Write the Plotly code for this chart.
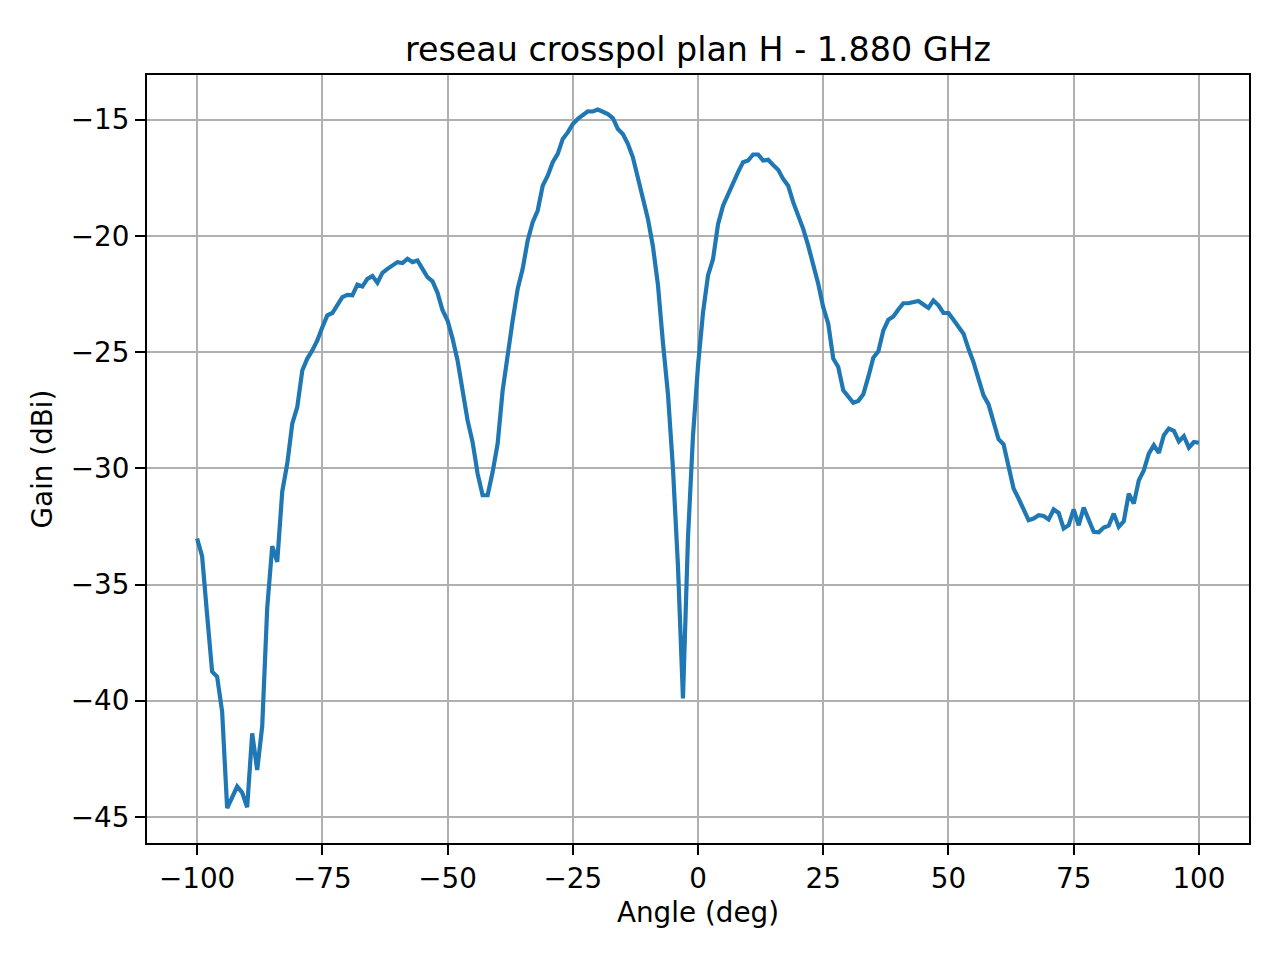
import plotly.graph_objects as go

# measurement: angle (deg) and gain (dBi), 1 deg step
angle = list(range(-100, 101))
gain = [
    -33.02, -33.78, -36.30, -38.75, -38.97, -40.47, -44.62, -44.15, -43.69, -43.95,   # -100..-91
    -44.58, -41.40, -42.98, -41.10, -36.00, -33.35, -34.02, -31.00, -29.80, -28.08,   # -90..-81
    -27.36, -25.79, -25.28, -24.93, -24.50, -23.93, -23.42, -23.32, -23.00, -22.64,   # -80..-71
    -22.54, -22.56, -22.10, -22.18, -21.85, -21.73, -22.02, -21.59, -21.42, -21.27,   # -70..-61
    -21.13, -21.17, -20.99, -21.13, -21.06, -21.42, -21.78, -21.96, -22.45, -23.20,   # -60..-51
    -23.64, -24.42, -25.36, -26.65, -27.94, -28.87, -30.23, -31.16, -31.16, -30.16,   # -50..-41
    -28.94, -26.65, -25.07, -23.64, -22.28, -21.42, -20.20, -19.41, -18.91, -17.84,   # -40..-31
    -17.41, -16.83, -16.47, -15.83, -15.55, -15.19, -14.97, -14.79, -14.64, -14.65,   # -30..-21
    -14.57, -14.66, -14.76, -14.93, -15.40, -15.62, -16.04, -16.62, -17.55, -18.34,   # -20..-11
    -19.27, -20.45, -22.10, -24.60, -26.80, -30.00, -34.20, -39.90, -33.00, -28.60,   # -10..-1
    -25.60, -23.30, -21.70, -21.00, -19.50, -18.70, -18.20, -17.70, -17.26, -16.83,   # 0..9
    -16.76, -16.50, -16.50, -16.76, -16.73, -16.95, -17.16, -17.55, -17.84, -18.55,   # 10..19
    -19.13, -19.70, -20.42, -21.20, -22.06, -23.07, -23.78, -25.28, -25.64, -26.65,   # 20..29
    -26.93, -27.18, -27.10, -26.82, -26.07, -25.24, -24.97, -24.07, -23.61, -23.47,   # 30..39
    -23.17, -22.90, -22.90, -22.85, -22.80, -22.95, -23.10, -22.78, -22.99, -23.32,   # 40..49
    -23.32, -23.61, -23.90, -24.21, -24.86, -25.43, -26.15, -26.86, -27.25, -27.94,   # 50..59
    -28.75, -28.97, -29.94, -30.87, -31.30, -31.77, -32.23, -32.16, -32.02, -32.05,   # 60..69
    -32.20, -31.77, -31.92, -32.59, -32.45, -31.77, -32.45, -31.69, -32.16, -32.73,   # 70..79
    -32.75, -32.55, -32.47, -31.95, -32.52, -32.28, -31.09, -31.52, -30.52, -30.09,   # 80..89
    -29.37, -29.01, -29.34, -28.58, -28.29, -28.39, -28.84, -28.62, -29.11, -28.87,   # 90..99
    -28.90,                                                                           # 100
]

xticks = [-100, -75, -50, -25, 0, 25, 50, 75, 100]
yticks = [-45, -40, -35, -30, -25, -20, -15]

def lab(v):
    return str(v).replace('-', '\u2212')

font = 'DejaVu Sans'
fs = 27.8

fig = go.Figure()
fig.add_trace(go.Scatter(x=angle, y=gain, mode='lines',
                         line=dict(color='#1f77b4', width=4.2),
                         showlegend=False))

# page body adds ~8px offset, so margins are shifted to compensate
fig.update_layout(width=1280, height=960,
                  margin=dict(l=139, r=39, t=67, b=125),
                  paper_bgcolor='white', plot_bgcolor='white',
                  font=dict(family=font, size=fs, color='black'),
                  title=dict(text='reseau crosspol plan H - 1.880 GHz',
                             x=0.5, xref='paper', xanchor='center',
                             y=1, yref='paper', yanchor='bottom',
                             pad=dict(b=14),
                             font=dict(family=font, size=33.3, color='black')))

axis_style = dict(showline=True, mirror=True, linecolor='black', linewidth=2.2,
                  ticks='outside', ticklen=10, tickwidth=2.2, tickcolor='black',
                  showgrid=True, gridcolor='#b0b0b0', gridwidth=2.2,
                  zeroline=False, tickfont=dict(family=font, size=fs, color='black'))

fig.update_xaxes(range=[-110, 110], tickvals=xticks, ticktext=[lab(v) for v in xticks],
                 title=dict(text='Angle (deg)', standoff=8,
                            font=dict(family=font, size=27.8, color='black')),
                 **axis_style)
fig.update_yaxes(range=[-46.12, -13.08], tickvals=yticks, ticktext=[lab(v) for v in yticks],
                 title=dict(text='Gain (dBi)', standoff=10,
                            font=dict(family=font, size=27.8, color='black')),
                 **axis_style)

fig.write_html('out.html')
